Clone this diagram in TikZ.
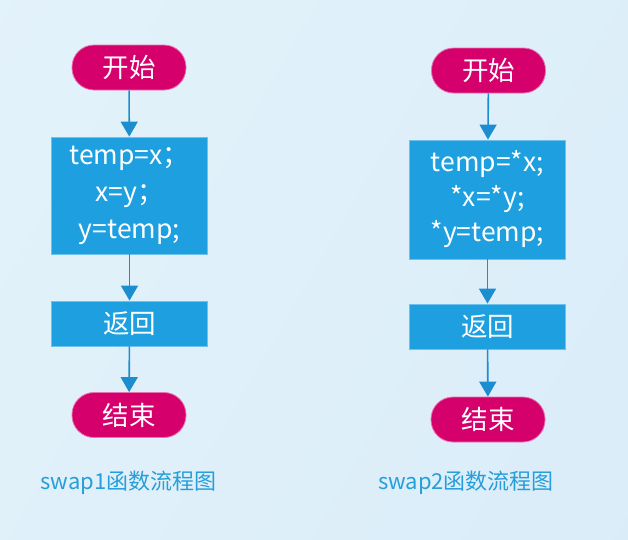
\documentclass[tikz,border=0pt]{standalone}
\usepackage{fontspec}
\setmainfont{Noto Sans CJK SC}
\usetikzlibrary{arrows.meta}
\definecolor{ovalc}{RGB}{214,0,108}
\definecolor{boxc}{RGB}{30,160,224}
\definecolor{arrc}{RGB}{28,142,208}
\definecolor{capc}{RGB}{38,158,218}
\definecolor{bgl}{RGB}{229,244,251}
\definecolor{bgr}{RGB}{216,235,248}
\pgfdeclarehorizontalshading{bgshade}{100bp}{color(0bp)=(bgl); color(100bp)=(bgr)}
\tikzset{
  oval/.style={rectangle, rounded corners=22pt, fill=ovalc, draw=white!45!ovalc, line width=0.8pt,
    minimum width=114pt, minimum height=45pt, inner sep=0pt, text=white,
    font=\fontsize{26.5}{26.5}\selectfont},
  procbox/.style={rectangle, fill=boxc, draw=white!35!boxc, line width=0.8pt,
    minimum width=156pt, inner sep=0pt, text=white},
  arr/.style={draw=arrc, line width=1.6pt, -{Triangle[width=17pt,length=15pt]}},
  captext/.style={text=capc, font=\fontsize{22}{22}\selectfont, inner sep=0pt}
}
\begin{document}
\begin{tikzpicture}[x=1pt,y=-1pt]
\shade[shading=bgshade, shading angle=-30] (0,0) rectangle (628,539);
\useasboundingbox (0,0) rectangle (628,539);
% left
\node[oval] (s1) at (129,67.5) {开始};
\node[procbox, minimum height=117pt, align=center, font=\fontsize{26.5}{37}\selectfont] (b1) at (129.5,195.5) {temp=x；\\x=y；\\y=temp;};
\node[procbox, minimum height=45pt, font=\fontsize{26.5}{26.5}\selectfont] (r1) at (129.5,323.5) {返回};
\node[oval] (e1) at (129,415) {结束};
\node[captext] (c1) at (128.5,483) {swap1函数流程图};
\draw[arr] (s1) -- (b1);
\draw[arr] (b1) -- (r1);
\draw[arr] (r1) -- (e1);
% right
\node[oval] (s2) at (488.5,70.5) {开始};
\node[procbox, minimum height=119pt, align=center, font=\fontsize{26.5}{35}\selectfont] (b2) at (487.5,199.5) {temp=*x;\\*x=*y;\\*y=temp;};
\node[procbox, minimum height=45pt, font=\fontsize{26.5}{26.5}\selectfont] (r2) at (487.5,326.5) {返回};
\node[oval] (e2) at (488,419.5) {结束};
\node[captext] (c2) at (466,483) {swap2函数流程图};
\draw[arr] (s2) -- (b2);
\draw[arr] (b2) -- (r2);
\draw[arr] (r2) -- (e2);
\end{tikzpicture}
\end{document}
